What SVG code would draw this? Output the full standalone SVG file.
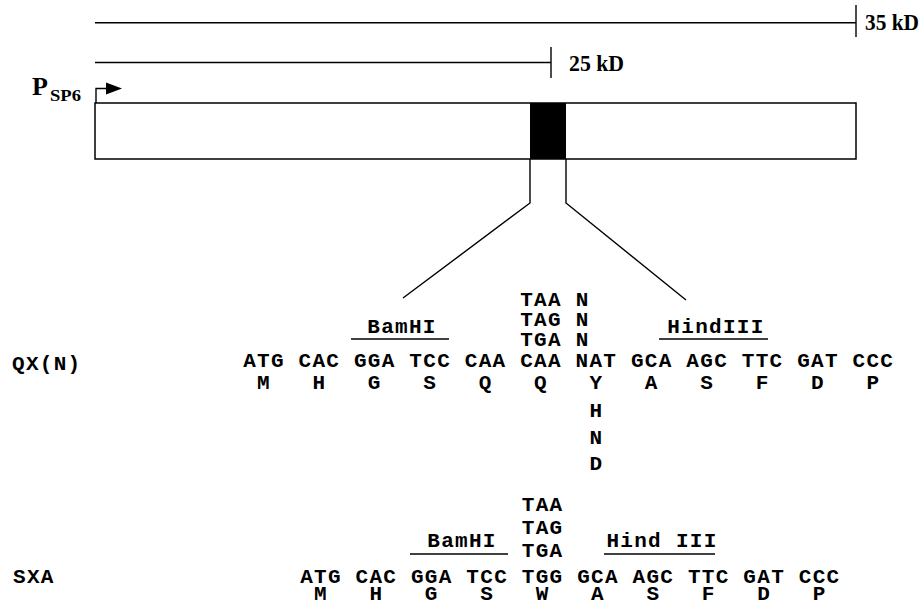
<svg xmlns="http://www.w3.org/2000/svg" width="923" height="604" viewBox="0 0 923 604">
<defs>
<style>
.ln{stroke:#000;stroke-width:1.4;fill:none}
.sr{font-family:"Liberation Serif","Times New Roman",serif;font-weight:bold;fill:#000}
.m{font-family:"Liberation Mono","Courier New",monospace;font-weight:bold;font-size:21px;letter-spacing:1.3px;fill:#000;text-anchor:middle}
.ml{font-family:"Liberation Mono","Courier New",monospace;font-weight:bold;font-size:21px;letter-spacing:1.3px;fill:#000}
</style>
</defs>
<rect width="923" height="604" fill="#fff"/>
<g id="scale35">
<line class="ln" x1="95" y1="22.7" x2="856" y2="22.7"/>
<line class="ln" x1="856" y1="5" x2="856" y2="37"/>
<text class="sr" x="865" y="30" font-size="24" textLength="54" lengthAdjust="spacingAndGlyphs">35 kD</text>
</g>
<g id="scale25">
<line class="ln" x1="95" y1="62.5" x2="551" y2="62.5"/>
<line class="ln" x1="551" y1="47" x2="551" y2="78"/>
<text class="sr" x="569" y="71" font-size="24" textLength="55" lengthAdjust="spacingAndGlyphs">25 kD</text>
</g>
<g id="promoter">
<text class="sr" x="32" y="95" font-size="26">P</text>
<text class="sr" x="50" y="101" font-size="17" textLength="31" lengthAdjust="spacingAndGlyphs">SP6</text>
<polyline class="ln" points="96,103 96,88.5 108,88.5"/>
<polygon points="106,82.5 122,88.5 106,94.5" fill="#000"/>
</g>
<g id="gene">
<rect x="95" y="103" width="761" height="56" fill="#fff" stroke="#000" stroke-width="1.5"/>
<rect x="530" y="103" width="36" height="56" fill="#000"/>
</g>
<g id="connectors">
<polyline class="ln" points="530,159 530,203 403,298"/>
<polyline class="ln" points="566,159 566,203 686,300"/>
</g>
<g id="qxn">
<text class="ml" x="12" y="370">QX(N)</text>
<text class="m" x="402" y="333">BamHI</text>
<line class="ln" x1="351" y1="339" x2="449" y2="339"/>
<text class="m" x="716" y="333">HindIII</text>
<line class="ln" x1="659" y1="339" x2="768" y2="339"/>
<text class="m" x="541" y="306">TAA</text>
<text class="m" x="541" y="326">TAG</text>
<text class="m" x="541" y="346">TGA</text>
<text class="m" x="582.6" y="306">N</text>
<text class="m" x="582.6" y="326">N</text>
<text class="m" x="582.6" y="346">N</text>
<text class="m" x="264" y="367">ATG</text>
<text class="m" x="319.4" y="367">CAC</text>
<text class="m" x="374.8" y="367">GGA</text>
<text class="m" x="430.2" y="367">TCC</text>
<text class="m" x="485.6" y="367">CAA</text>
<text class="m" x="541" y="367">CAA</text>
<text class="m" x="596.4" y="367">NAT</text>
<text class="m" x="651.8" y="367">GCA</text>
<text class="m" x="707.2" y="367">AGC</text>
<text class="m" x="762.6" y="367">TTC</text>
<text class="m" x="818" y="367">GAT</text>
<text class="m" x="873.4" y="367">CCC</text>
<text class="m" x="264" y="389">M</text>
<text class="m" x="319.4" y="389">H</text>
<text class="m" x="374.8" y="389">G</text>
<text class="m" x="430.2" y="389">S</text>
<text class="m" x="485.6" y="389">Q</text>
<text class="m" x="541" y="389">Q</text>
<text class="m" x="596.4" y="389">Y</text>
<text class="m" x="651.8" y="389">A</text>
<text class="m" x="707.2" y="389">S</text>
<text class="m" x="762.6" y="389">F</text>
<text class="m" x="818" y="389">D</text>
<text class="m" x="873.4" y="389">P</text>
<text class="m" x="596.4" y="417">H</text>
<text class="m" x="596.4" y="444">N</text>
<text class="m" x="596.4" y="470">D</text>
</g>
<g id="sxa">
<text class="ml" x="13" y="583">SXA</text>
<text class="m" x="462" y="547">BamHI</text>
<line class="ln" x1="410" y1="554" x2="508" y2="554"/>
<text class="m" x="662" y="547">Hind III</text>
<line class="ln" x1="604" y1="554" x2="715" y2="554"/>
<text class="m" x="542.6" y="511">TAA</text>
<text class="m" x="542.6" y="534">TAG</text>
<text class="m" x="542.6" y="557">TGA</text>
<text class="m" x="321" y="583">ATG</text>
<text class="m" x="376.4" y="583">CAC</text>
<text class="m" x="431.8" y="583">GGA</text>
<text class="m" x="487.2" y="583">TCC</text>
<text class="m" x="542.6" y="583">TGG</text>
<text class="m" x="598" y="583">GCA</text>
<text class="m" x="653.4" y="583">AGC</text>
<text class="m" x="708.8" y="583">TTC</text>
<text class="m" x="764.2" y="583">GAT</text>
<text class="m" x="819.6" y="583">CCC</text>
<text class="m" x="321" y="600">M</text>
<text class="m" x="376.4" y="600">H</text>
<text class="m" x="431.8" y="600">G</text>
<text class="m" x="487.2" y="600">S</text>
<text class="m" x="542.6" y="600">W</text>
<text class="m" x="598" y="600">A</text>
<text class="m" x="653.4" y="600">S</text>
<text class="m" x="708.8" y="600">F</text>
<text class="m" x="764.2" y="600">D</text>
<text class="m" x="819.6" y="600">P</text>
</g>
</svg>
